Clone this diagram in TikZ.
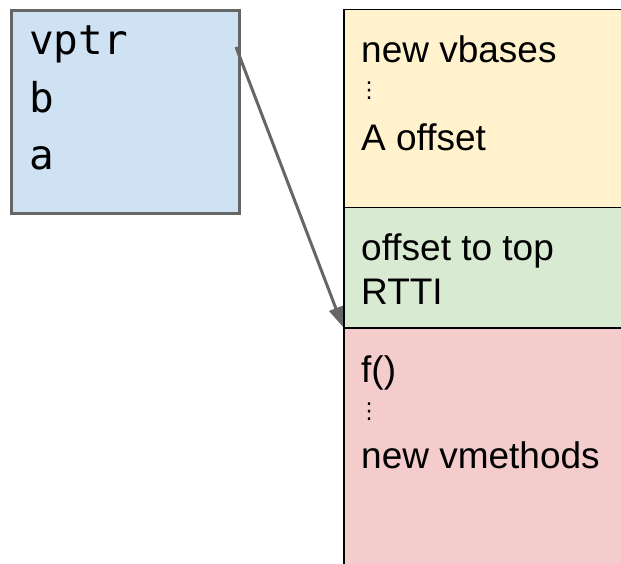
\documentclass[tikz,border=0pt]{standalone}
\usepackage{fontspec}
\setmainfont{Liberation Sans}
\newfontfamily\monofont{DejaVu Sans Mono}
\newfontfamily\symfont{DejaVu Sans}
\usetikzlibrary{arrows.meta}

\definecolor{objfill}{HTML}{CFE2F3}
\definecolor{objline}{HTML}{666666}
\definecolor{vbasefill}{HTML}{FFF2CC}
\definecolor{topfill}{HTML}{D9EAD3}
\definecolor{methfill}{HTML}{F4CCCC}

\tikzset{
  objbox/.style={draw=objline, line width=3pt, fill=objfill, inner sep=0pt, anchor=north west},
  tblbox/.style={draw=black, line width=1.5pt, inner sep=0pt, anchor=north west, minimum width=300pt},
  monotext/.style={font=\monofont\fontsize{41}{41}\selectfont, anchor=base west, inner sep=0pt},
  celltext/.style={font=\fontsize{37}{37}\selectfont, anchor=base west, inner sep=0pt},
  dots/.style={font=\symfont\fontsize{22}{22}\selectfont, inner sep=0pt},
  ptr/.style={draw=objline, line width=3pt, -{Triangle[length=20pt,width=14pt]}}
}

\begin{document}
\begin{tikzpicture}[x=1pt, y=-1pt]
  \useasboundingbox (0,0) rectangle (621,564);
  \clip (0,0) rectangle (621,564);

  % object layout
  \node[objbox, minimum width=228pt, minimum height=203pt] (obj) at (9.5,9.5) {};
  \node[monotext] (fvptr) at (29,55) {vptr};
  \node[monotext] (fb) at (29,113) {b};
  \node[monotext] (fa) at (29,170) {a};

  % vtable sections
  \node[tblbox, fill=vbasefill, minimum height=198pt] (vbases) at (343,9) {};
  \node[tblbox, fill=topfill, minimum height=120pt] (top) at (343,207) {};
  \node[tblbox, fill=methfill, minimum height=260pt] (meth) at (343,327) {};

  \node[celltext] (nvb) at (361,63) {new vbases};
  \node[dots] (d1) at (369,91) {⋮};
  \node[celltext] (aoff) at (361,151) {A offset};

  \node[celltext] (ott) at (361,260) {offset to top};
  \node[celltext] (rtti) at (361,304) {RTTI};

  \node[celltext] (fn) at (361,382) {f()};
  \node[dots] (d2) at (369,412) {⋮};
  \node[celltext] (nvm) at (361,468) {new vmethods};

  % vptr points at the first virtual method slot
  \coordinate (vpsrc) at (236,47);
  \draw[ptr] (vpsrc) -- (meth.north west);
\end{tikzpicture}
\end{document}
